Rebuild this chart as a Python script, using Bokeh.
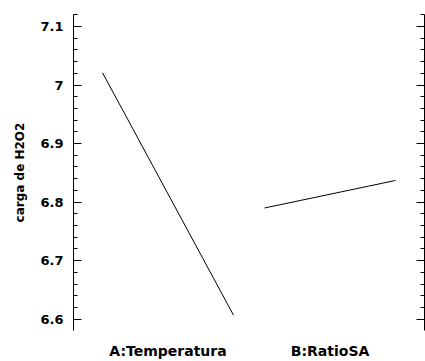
from bokeh.plotting import figure
from bokeh.models import (Range1d, LinearAxis, SingleIntervalTicker, FixedTicker,
                          CustomJSTickFormatter, Title)
from bokeh.embed import file_html
from bokeh.resources import INLINE

# ---- data ----
factors = ["A:Temperatura", "B:RatioSA"]
low_values = [7.021, 6.790]     # response at factor low level
high_values = [6.607, 6.837]    # response at factor high level
y_label = "carga de H2O2"

# ---- layout ----
gap = 0.237          # gap between factor panels (in x units)
FONT = "DejaVu Sans"

p = figure(width=425, height=361, output_backend="svg", toolbar_location=None,
           x_range=Range1d(-0.2214, 2.458), y_range=Range1d(6.5808, 7.1204),
           min_border_left=73, min_border_top=14, min_border_right=1, min_border_bottom=29,
           background_fill_color="white", border_fill_color="white")
p.outline_line_color = None
p.grid.visible = False

centers = []
for i, (lo, hi) in enumerate(zip(low_values, high_values)):
    x0 = i * (1 + gap)
    p.line([x0, x0 + 1], [lo, hi], line_color="black", line_width=1)
    centers.append(x0 + 0.5)

# x axis: only factor names
xa = p.xaxis[0]
xa.ticker = FixedTicker(ticks=centers)
xa.formatter = CustomJSTickFormatter(args=dict(pos=centers, labels=factors), code="""
    for (let i = 0; i < pos.length; i++) { if (Math.abs(tick - pos[i]) < 1e-6) return labels[i]; }
    return '';
""")
xa.axis_line_color = None
xa.major_tick_line_color = None
xa.minor_tick_line_color = None
xa.major_tick_in = 0
xa.major_tick_out = 0
xa.minor_tick_in = 0
xa.minor_tick_out = 0
xa.major_label_standoff = 12
xa.major_label_text_font = FONT
xa.major_label_text_font_style = "bold"
xa.major_label_text_font_size = "14px"
xa.major_label_text_color = "black"

ya = p.yaxis[0]
ya.ticker = SingleIntervalTicker(interval=0.1, num_minor_ticks=5)
ya.formatter = CustomJSTickFormatter(code="return Number(tick.toFixed(2)).toString();")
ya.axis_line_color = "black"
ya.major_tick_in = 8
ya.major_tick_out = 0
ya.minor_tick_in = 4
ya.minor_tick_out = 0
ya.major_tick_line_color = "black"
ya.minor_tick_line_color = "black"
ya.major_label_standoff = 10
ya.major_label_text_font = FONT
ya.major_label_text_font_style = "bold"
ya.major_label_text_font_size = "13px"
ya.major_label_text_color = "black"

ra = LinearAxis(ticker=SingleIntervalTicker(interval=0.1, num_minor_ticks=5),
                formatter=CustomJSTickFormatter(code="return '';"))
ra.axis_line_color = "black"
ra.major_tick_in = 8
ra.major_tick_out = 0
ra.minor_tick_in = 4
ra.minor_tick_out = 0
ra.major_tick_line_color = "black"
ra.minor_tick_line_color = "black"
ra.major_label_standoff = 0
ra.major_label_text_font_size = "0px"
p.add_layout(ra, "right")

p.add_layout(Title(text=y_label, align="center", offset=30, standoff=21,
                   text_font=FONT, text_font_style="bold", text_font_size="12px",
                   text_color="black"), "left")

open("out.html", "w").write(file_html(p, INLINE))
